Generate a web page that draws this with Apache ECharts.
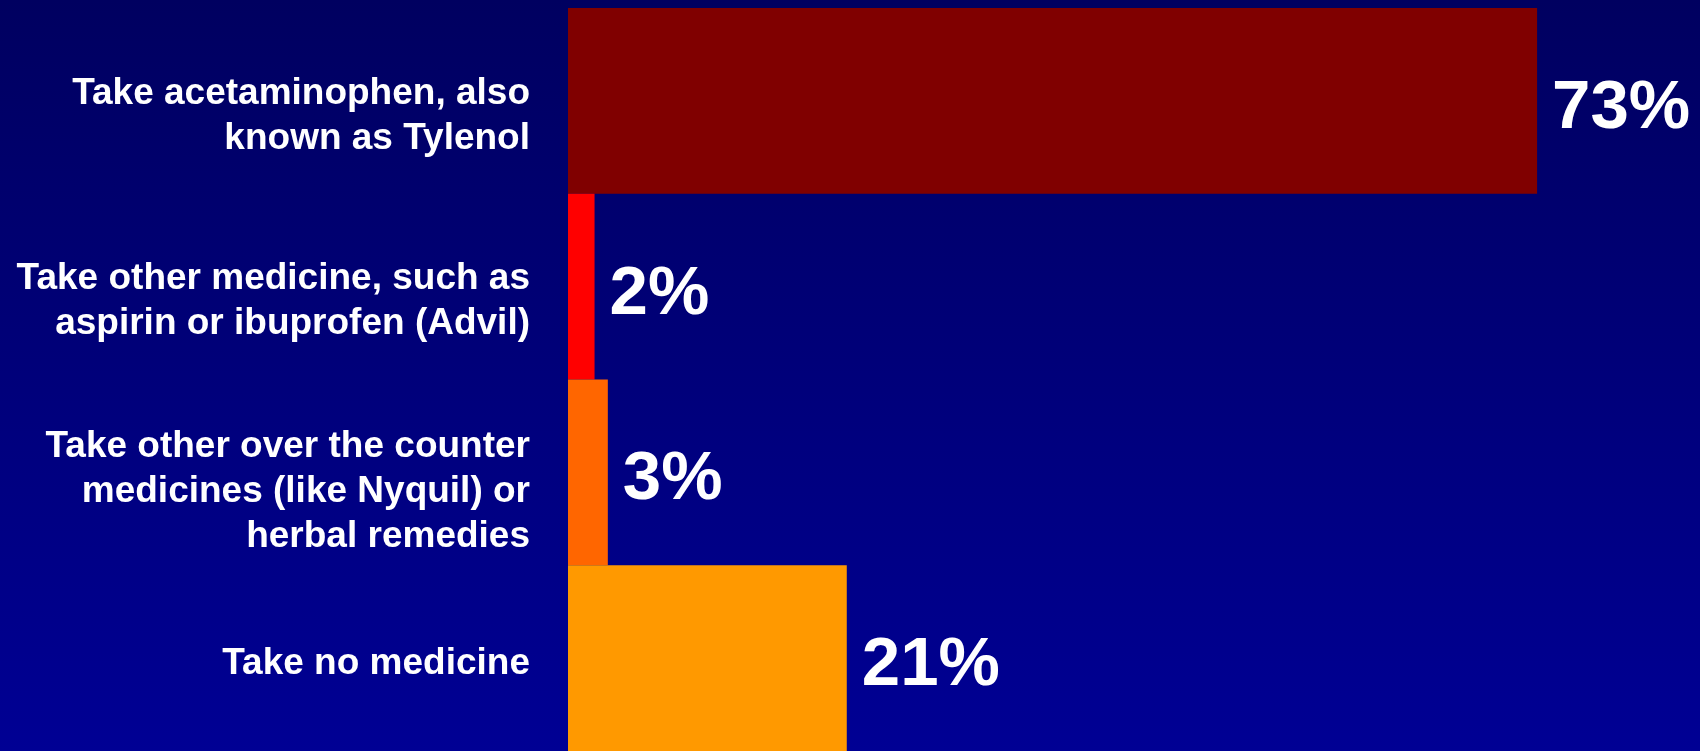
<!DOCTYPE html>
<html>
<head>
<meta charset="utf-8">
<script src="https://cdn.jsdelivr.net/npm/echarts@6/dist/echarts.min.js"></script>
<style>
  html, body { margin: 0; padding: 0; background: #000060; }
  #chart { width: 1700px; height: 751px; }
</style>
</head>
<body>
<div id="chart"></div>
<script>
const categories = [
  "Take acetaminophen, also\nknown as Tylenol",
  "Take other medicine, such as\naspirin or ibuprofen (Advil)",
  "Take other over the counter\nmedicines (like Nyquil) or\nherbal remedies",
  "Take no medicine"
];
const values = [73, 2, 3, 21];
const barColors = ["#800000", "#FF0000", "#FF6600", "#FF9900"];

const FONT = '"Liberation Sans", Arial, Helvetica, sans-serif';

const chart = echarts.init(document.getElementById('chart'), null, { renderer: 'canvas' });
chart.setOption({
  animation: false,
  backgroundColor: {
    type: 'linear', x: 0, y: 0, x2: 0, y2: 1,
    colorStops: [
      { offset: 0, color: '#000060' },
      { offset: 1, color: '#000094' }
    ]
  },
  grid: { left: 568, right: 70, top: 8, bottom: 0, containLabel: false },
  xAxis: {
    type: 'value', min: 0, max: 80, show: false
  },
  yAxis: {
    type: 'category',
    inverse: true,
    data: categories,
    axisLine: { show: false },
    axisTick: { show: false },
    splitLine: { show: false },
    axisLabel: {
      color: '#ffffff',
      fontFamily: FONT,
      fontWeight: 'bold',
      fontSize: 37,
      lineHeight: 45,
      align: 'right',
      margin: 38,
      padding: [0, 0, 0, 0],
      formatter: function (val) {
        const lines = val.split('\n');
        return '{sp' + lines.length + '| }\n' + lines.map(l => '{t|' + l + '}').join('\n');
      },
      rich: {
        t: { color: '#ffffff', fontFamily: FONT, fontWeight: 'bold', fontSize: 37, lineHeight: 45, align: 'right' },
        sp1: { fontSize: 1, lineHeight: 11 },
        sp2: { fontSize: 1, lineHeight: 30 },
        sp3: { fontSize: 1, lineHeight: 39 }
      }
    }
  },
  series: [{
    type: 'bar',
    data: values.map((v, i) => ({ value: v, itemStyle: { color: barColors[i] } })),
    barWidth: '100%',
    barCategoryGap: 0,
    label: {
      show: true,
      position: 'right',
      distance: 15,
      offset: [0, 8],
      color: '#ffffff',
      fontFamily: FONT,
      fontWeight: 'bold',
      fontSize: 69,
      formatter: p => p.value + '%'
    }
  }]
});
</script>
</body>
</html>
